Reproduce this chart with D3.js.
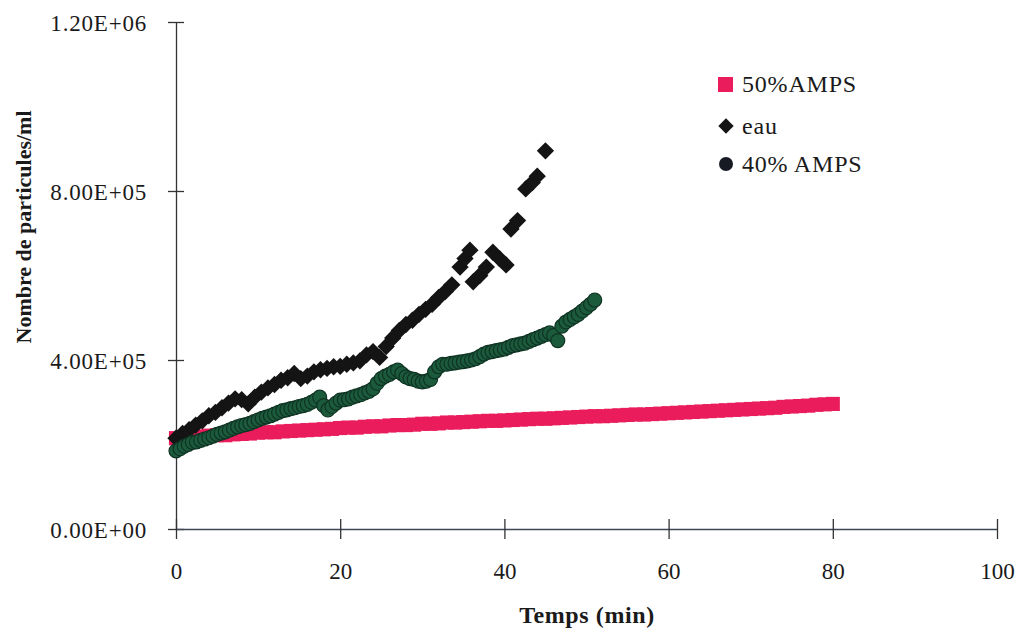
<!DOCTYPE html>
<html>
<head>
<meta charset="utf-8">
<script src="https://cdn.jsdelivr.net/npm/d3@7"></script>
<style>
  html, body { margin: 0; padding: 0; background: #fff; }
  svg { display: block; }
</style>
</head>
<body>
<svg id="chart" width="1024" height="634"></svg>
<script>
// ---------- data ----------
const xTicks = [0, 20, 40, 60, 80, 100];
const yTicks = [0, 400000, 800000, 1200000];
const seriesNames = ["50%AMPS", "eau", "40% AMPS"];

// 50% AMPS (pink squares)
const amps50Time = [0,1,2,3,4,5,6,7,8,9,10,11,12,13,14,15,16,17,18,19,20,21,22,23,24,25,26,27,28,29,30,31,32,33,34,35,36,37,38,39,40,41,42,43,44,45,46,47,48,49,50,51,52,53,54,55,56,57,58,59,60,61,62,63,64,65,66,67,68,69,70,71,72,73,74,75,76,77,78,79,80];
const amps50Value = [215000,217000,218000,219000,221000,222000,222000,224000,225000,226000,228000,229000,229000,231000,232000,233000,234000,235000,236000,237000,239000,240000,240000,242000,243000,243000,245000,246000,246000,247000,249000,249000,250000,252000,252000,253000,254000,255000,256000,256000,257000,258000,259000,260000,261000,261000,262000,263000,264000,265000,266000,267000,267000,268000,269000,270000,271000,271000,272000,273000,274000,275000,276000,277000,278000,279000,280000,281000,282000,283000,284000,285000,286000,287000,289000,290000,291000,292000,294000,295000,296000];

// eau (black diamonds)
const eauTime = [0,0.8,1.6,2.4,3.2,4,4.8,5.6,6.4,7.2,8,8.8,9.6,10.4,11.2,12,12.8,13.6,14.4,15.2,16,16.8,17.6,18.4,19.2,20,20.8,21.6,22.4,23.2,24,24.8,25.6,26.4,27.2,28,28.8,29.6,30.4,31.2,32,32.8,33.6,34.6,35.2,35.8,36.2,37,37.8,38.6,39.4,40.2,40.8,41.6,42.6,43.4,44,45];
const eauValue = [215000,226000,235000,246000,256000,268000,276000,287000,298000,308000,306000,296000,312000,324000,334000,342000,352000,358000,368000,356000,362000,372000,377000,380000,384000,385000,390000,393000,398000,412000,420000,406000,432000,452000,470000,484000,494000,508000,520000,532000,548000,562000,578000,620000,640000,660000,585000,600000,620000,655000,640000,625000,710000,730000,805000,820000,835000,895000];

// 40% AMPS (green circles)
const amps40Time = [0,0.5,1,1.5,2,2.5,3,3.5,4,4.5,5,5.5,6,6.5,7,7.5,8,8.5,9,9.5,10,10.5,11,11.5,12,12.5,13,13.5,14,14.5,15,15.5,16,16.5,17,17.5,18,18.5,19,19.5,20,20.5,21,21.5,22,22.5,23,23.5,24,24.5,25,25.5,26,26.5,27,27.5,28,28.5,29,29.5,30,30.5,31,31.5,32,32.5,33,33.5,34,34.5,35,35.5,36,36.5,37,37.5,38,38.5,39,39.5,40,40.5,41,41.5,42,42.5,43,43.5,44,44.5,45,45.5,46,46.5,47,47.5,48,48.5,49,49.5,50,50.5,51];
const amps40Value = [185000,190000,196000,200000,205000,206000,210000,213000,216000,220000,224000,227000,230000,234000,238000,242000,245000,247000,250000,254000,258000,262000,265000,268000,272000,276000,280000,282000,285000,287000,290000,292000,295000,300000,305000,312000,292000,282000,290000,298000,305000,306000,308000,312000,315000,318000,322000,326000,332000,345000,356000,362000,366000,372000,376000,368000,360000,356000,354000,350000,348000,350000,354000,372000,384000,390000,390000,392000,393000,395000,396000,398000,400000,403000,408000,414000,418000,420000,422000,424000,426000,430000,434000,436000,438000,440000,444000,448000,452000,456000,460000,464000,458000,446000,480000,490000,496000,502000,508000,516000,524000,532000,542000];

// ---------- chart ----------
const svg = d3.select("#chart");
const x = d3.scaleLinear().domain([0, 100]).range([176, 997]);
const y = d3.scaleLinear().domain([0, 1200000]).range([529, 22]);
const serif = "'Liberation Serif', 'Times New Roman', serif";

const fmtE = v => {
  const [m, e] = v.toExponential(2).toUpperCase().split("E");
  return m + "E" + e[0] + e.slice(1).padStart(2, "0");
};

// Y axis
const yAxis = svg.append("g")
  .attr("transform", `translate(${x(0)},0)`)
  .attr("font-family", serif)
  .call(d3.axisLeft(y).tickValues(yTicks).tickFormat(fmtE).tickSizeInner(8).tickSizeOuter(0).tickPadding(21));
yAxis.select(".domain").attr("stroke", "#333").attr("stroke-width", 1.3);
yAxis.selectAll(".tick line").attr("x1", -8).attr("x2", 8).attr("stroke", "#333").attr("stroke-width", 1.3);
yAxis.selectAll(".tick text")
  .attr("font-family", serif)
  .attr("font-size", 23)
  .attr("letter-spacing", "0.8px")
  .attr("fill", "#1a1a1a")
  .attr("dy", "0.35em");

// X axis
const xAxis = svg.append("g")
  .attr("transform", `translate(0,${y(0)})`)
  .attr("font-family", serif)
  .call(d3.axisBottom(x).tickValues(xTicks).tickFormat(d3.format("d")).tickSizeInner(10).tickSizeOuter(0).tickPadding(24));
xAxis.select(".domain").attr("stroke", "#3d4756").attr("stroke-width", 1.6);
xAxis.selectAll(".tick line").attr("y1", -10).attr("y2", 10).attr("stroke", "#333").attr("stroke-width", 1.3);
xAxis.selectAll(".tick text")
  .attr("font-family", serif)
  .attr("font-size", 23)
  .attr("fill", "#1a1a1a");

// Axis titles
svg.append("text")
  .attr("x", 587).attr("y", 623)
  .attr("text-anchor", "middle")
  .attr("font-family", serif)
  .attr("font-weight", "bold")
  .attr("font-size", 24)
  .attr("letter-spacing", "0.6px")
  .attr("fill", "#1a1a1a")
  .text("Temps (min)");

svg.append("text")
  .attr("transform", "translate(31,227) rotate(-90)")
  .attr("text-anchor", "middle")
  .attr("font-family", serif)
  .attr("font-weight", "bold")
  .attr("font-size", 22)
  .attr("fill", "#1a1a1a")
  .text("Nombre de particules/ml");

// Series
const pink = "#ea1c5c";
const green = "#1c5a3c";
const black = "#141414";

const squareSym = d3.symbol().type(d3.symbolSquare).size(200);
const diamondSym = d3.symbol().type(d3.symbolSquare).size(150);

svg.append("g").selectAll("path")
  .data(d3.zip(amps50Time, amps50Value))
  .join("path")
  .attr("d", squareSym)
  .attr("transform", d => `translate(${x(d[0])},${y(d[1])})`)
  .attr("fill", pink);

svg.append("g").selectAll("path")
  .data(d3.zip(eauTime, eauValue))
  .join("path")
  .attr("d", diamondSym)
  .attr("transform", d => `translate(${x(d[0])},${y(d[1])}) rotate(45)`)
  .attr("fill", black);

svg.append("g").selectAll("circle")
  .data(d3.zip(amps40Time, amps40Value))
  .join("circle")
  .attr("cx", d => x(d[0]))
  .attr("cy", d => y(d[1]))
  .attr("r", 7)
  .attr("fill", green)
  .attr("stroke", "#0f3323")
  .attr("stroke-width", 1.2);

// Legend
const legend = svg.append("g");
const legendY = [84, 126, 164];
legend.append("rect").attr("x", 718).attr("y", legendY[0] - 7).attr("width", 15).attr("height", 15).attr("fill", pink);
legend.append("path").attr("d", d3.symbol().type(d3.symbolSquare).size(118))
  .attr("transform", `translate(726,${legendY[1]}) rotate(45)`).attr("fill", black);
legend.append("circle").attr("cx", 726).attr("cy", legendY[2]).attr("r", 7).attr("fill", "#161a22");
legend.selectAll("text.leg")
  .data(seriesNames)
  .join("text")
  .attr("class", "leg")
  .attr("x", 742)
  .attr("y", (d, i) => legendY[i] + 8)
  .attr("font-family", serif)
  .attr("font-size", 24)
  .attr("letter-spacing", "0.8px")
  .attr("fill", "#1a1a1a")
  .text(d => d);
</script>
</body>
</html>
